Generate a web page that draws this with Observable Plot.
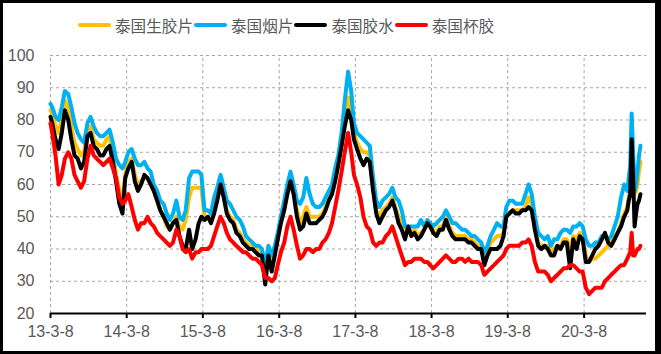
<!DOCTYPE html>
<html><head><meta charset="utf-8">
<script src="https://cdn.jsdelivr.net/npm/d3@7"></script>
<script src="https://cdn.jsdelivr.net/npm/@observablehq/plot@0.6"></script>
<style>
html,body{margin:0;padding:0;background:#fff;}
#wrap{position:relative;width:661px;height:354px;overflow:hidden;background:#fff;}
#frame{position:absolute;left:0;top:0;width:661px;height:354px;box-sizing:border-box;border-style:solid;border-color:#000;border-width:3px 6px 3px 3px;pointer-events:none;z-index:5;}
#legend{height:40px;box-sizing:border-box;padding:10px 0 0 78px;display:flex;align-items:center;font-family:"Noto Sans CJK SC",sans-serif;font-size:15.6px;color:#595959;line-height:30px;}
#legend .sw{display:inline-block;width:33px;height:4px;border-radius:2px;margin-right:4px;}
#legend .lb{margin-right:1px;white-space:nowrap;}
svg{display:block;}
</style></head>
<body><div id="wrap"><div id="legend"></div><div id="chart"></div><div id="frame"></div></div>
<script>
const seriesNames = ["泰国生胶片","泰国烟片","泰国胶水","泰国杯胶"];
const seriesColors = ["#FFC000","#00B0F0","#000000","#FF0000"];
const yTicks = [20,30,40,50,60,70,80,90,100];
const xTickDates = ["2013-03-08","2014-03-08","2015-03-08","2016-03-08","2017-03-08","2018-03-08","2019-03-08","2020-03-08"];
const xTickLabels = ["13-3-8","14-3-8","15-3-8","16-3-8","17-3-8","18-3-8","19-3-8","20-3-8"];

const dates = [
"2013-03-08","2013-03-16","2013-04-01","2013-04-16","2013-05-01","2013-05-16","2013-06-01","2013-06-16","2013-07-01","2013-07-16","2013-08-01","2013-08-16","2013-09-01","2013-09-16","2013-10-01","2013-10-16","2013-11-01","2013-11-16","2013-12-01","2013-12-16",
"2014-01-01","2014-01-16","2014-02-01","2014-02-16","2014-03-01","2014-03-16","2014-04-01","2014-04-16","2014-05-01","2014-05-16","2014-06-01","2014-06-16","2014-07-01","2014-07-16","2014-08-01","2014-08-16","2014-09-01","2014-09-16","2014-10-01","2014-10-16","2014-11-01","2014-11-16","2014-12-01","2014-12-16",
"2015-01-01","2015-01-16","2015-02-01","2015-02-16","2015-03-01","2015-03-16","2015-04-01","2015-04-16","2015-05-01","2015-05-16","2015-06-01","2015-06-16","2015-07-01","2015-07-16","2015-08-01","2015-08-16","2015-09-01","2015-09-16","2015-10-01","2015-10-16","2015-11-01","2015-11-16","2015-12-01","2015-12-16",
"2016-01-01","2016-01-16","2016-02-01","2016-02-16","2016-03-01","2016-03-16","2016-04-01","2016-04-16","2016-05-01","2016-05-16","2016-06-01","2016-06-16","2016-07-01","2016-07-16","2016-08-01","2016-08-16","2016-09-01","2016-09-16","2016-10-01","2016-10-16","2016-11-01","2016-11-16","2016-12-01","2016-12-16",
"2017-01-01","2017-01-16","2017-02-01","2017-02-16","2017-03-01","2017-03-16","2017-04-01","2017-04-16","2017-05-01","2017-05-16","2017-06-01","2017-06-16","2017-07-01","2017-07-16","2017-08-01","2017-08-16","2017-09-01","2017-09-16","2017-10-01","2017-10-16","2017-11-01","2017-11-16","2017-12-01","2017-12-16",
"2018-01-01","2018-01-16","2018-02-01","2018-02-16","2018-03-01","2018-03-16","2018-04-01","2018-04-16","2018-05-01","2018-05-16","2018-06-01","2018-06-16","2018-07-01","2018-07-16","2018-08-01","2018-08-16","2018-09-01","2018-09-16","2018-10-01","2018-10-16","2018-11-01","2018-11-16","2018-12-01","2018-12-16",
"2019-01-01","2019-01-16","2019-02-01","2019-02-16","2019-03-01","2019-03-16","2019-04-01","2019-04-16","2019-05-01","2019-05-16","2019-06-01","2019-06-16","2019-07-01","2019-07-16","2019-08-01","2019-08-16","2019-09-01","2019-09-16","2019-10-01","2019-10-16","2019-11-01","2019-11-16","2019-12-01","2019-12-16",
"2020-01-01","2020-01-16","2020-02-01","2020-02-16","2020-03-01","2020-03-16","2020-04-01","2020-04-16","2020-05-01","2020-05-16","2020-06-01","2020-06-16","2020-07-01","2020-07-16","2020-08-01","2020-08-16","2020-09-01","2020-09-16",
"2020-10-01","2020-10-08","2020-10-15","2020-10-22","2020-10-29","2020-11-05","2020-11-12","2020-11-19","2020-11-26","2020-12-03"
];

// 泰国生胶片
const rawSheet = [
83,82,78,76,80,86,84,78,73,71,69,70,77,78,74,73,72,72,74,75,
70,63,58,55,63,67,68,63,60,61,62,62,60,58,55,52,50,47,46,48,50,47,46,49,
56,59,59,59,59,50,50,49,53,56,61,57,52,50,49,46,45,43,42,41,41,40,39,39,
33,39,36,39,44,49,53,58,62,58,52,48,50,53,50,50,50,50,51,53,56,58,63,67,
73,82,87,83,76,73,71,70,70,69,59,52,50,52,53,54,56,53,50,48,45,46,45,46,
44,45,46,48,47,46,45,47,47,50,47,45,44,44,44,44,43,43,42,41,40,37,39,42,
43,44,44,45,50,51,52,52,52,52,53,56,54,47,42,41,41,41,39,40,41,41,43,43,
40,44,43,45,44,38,36,37,37,38,39,40,41,42,44,45,48,51,
53,56,58,62,60,57,58,60,64,67
];
// 泰国烟片
const smokedSheet = [
85,84,81,80,84,89,88,84,79,76,74,73,79,81,78,76,75,75,76,77,
73,68,66,65,67,70,71,68,66,66,67,65,64,60,58,55,54,51,49,51,55,50,49,52,
62,64,64,64,63,52,52,51,56,59,63,59,55,54,52,50,49,47,44,43,42,41,41,40,
35,41,38,41,45,50,55,60,64,60,55,54,56,62,57,54,53,53,54,56,58,60,65,69,
76,86,95,89,79,76,75,74,73,72,62,55,53,55,56,57,59,56,55,52,47,47,47,47,
47,49,47,49,48,47,48,49,50,52,50,48,48,47,46,46,45,44,44,43,42,39,41,44,
46,48,47,47,53,55,55,54,54,54,57,60,57,50,45,44,43,44,41,43,43,45,46,46,
45,47,47,48,47,43,41,41,42,42,44,44,43,44,47,50,56,60,
58,62,66,82,70,58,60,64,69,72
];
// 泰国胶水
const latex = [
81,79,74,71,76,83,80,74,69,68,65,67,75,76,72,71,69,69,71,72,
67,61,54,51,62,65,67,61,58,60,63,62,60,58,55,52,50,48,46,48,49,44,41,40,
46,40,43,48,50,49,50,48,51,55,60,56,51,49,48,45,44,42,41,40,40,39,38,38,
29,38,33,38,43,48,52,57,61,57,50,46,47,51,48,48,48,49,50,52,55,57,61,66,
72,78,83,80,74,71,68,66,68,67,58,51,48,50,52,53,55,52,48,46,43,47,44,45,
43,44,46,48,47,45,44,46,46,49,46,44,43,43,43,43,42,42,41,40,40,35,38,40,
40,40,41,44,50,51,52,51,51,52,52,53,52,46,41,40,41,40,38,38,41,40,42,42,
34,43,40,44,43,36,36,38,40,41,43,45,42,41,43,45,47,50,
52,55,57,74,62,47,51,54,55,57
];
// 泰国杯胶
const cupLump = [
79,76,69,60,63,68,70,68,63,61,59,61,68,72,69,68,67,66,67,68,
65,62,56,54,55,57,53,49,46,48,48,50,48,47,45,44,43,42,41,42,46,44,40,39,
40,37,39,39,40,40,40,41,44,47,50,48,45,43,42,41,40,39,39,38,37,37,36,35,
31,31,30,31,35,39,42,47,50,46,41,37,38,40,40,39,40,40,42,43,45,48,53,58,
64,70,76,70,63,60,56,50,47,46,42,41,42,42,44,45,47,44,41,38,35,36,36,37,
37,37,36,36,35,34,35,36,37,38,37,36,36,37,37,36,37,36,36,36,35,32,33,34,
35,36,37,38,40,41,41,41,41,42,42,43,41,36,33,33,33,32,30,31,32,33,34,34,
35,35,34,33,33,28,26,27,28,28,28,30,31,32,33,34,35,35,
37,38,39,45,38,38,39,40,40,41
];

const parse = d3.utcParse("%Y-%m-%d");
const allSeries = [rawSheet, smokedSheet, latex, cupLump];
const rows = [];
allSeries.forEach((arr, i) => arr.forEach((v, j) => rows.push({date: parse(dates[j]), value: v, series: seriesNames[i]})));
const tickDates = xTickDates.map(parse);

// legend
const legend = document.getElementById("legend");
seriesNames.forEach((name, i) => {
  const sw = document.createElement("span"); sw.className = "sw"; sw.style.background = seriesColors[i];
  const lb = document.createElement("span"); lb.className = "lb"; lb.textContent = name;
  legend.appendChild(sw); legend.appendChild(lb);
});

const chart = Plot.plot({
  width: 661, height: 314,
  marginLeft: 50, marginRight: 15, marginTop: 15, marginBottom: 41,
  x: {type: "utc", domain: [parse("2013-03-08"), parse("2021-01-01")], label: null},
  y: {domain: [20, 100], label: null},
  color: {domain: seriesNames, range: seriesColors},
  style: {fontFamily: "'Liberation Sans', Arial, sans-serif", fontSize: "16px", color: "#595959", background: "#fff", overflow: "visible"},
  marks: [
    Plot.ruleY(yTicks.filter(t => t > 20), {stroke: "#a6a6a6", strokeDasharray: "3,3", strokeWidth: 1}),
    Plot.ruleX(tickDates, {y1: 20, y2: 100, stroke: "#a6a6a6", strokeDasharray: "3,3", strokeWidth: 1}),
    Plot.lineY(rows, {x: "date", y: "value", z: "series", stroke: "series", strokeWidth: 4, strokeLinejoin: "round", strokeLinecap: "round"}),
    Plot.ruleY([20], {stroke: "#000", strokeWidth: 2}),
    Plot.axisX({ticks: tickDates, tickFormat: d => xTickLabels[tickDates.findIndex(t => +t === +d)], tickSize: 5, tickPadding: 7, stroke: "#000", strokeWidth: 2, fill: "#595959", fontSize: 16, label: null, style: "letter-spacing:2px"}),
    Plot.axisY({ticks: yTicks, tickSize: 0, tickPadding: 16, fill: "#595959", fontSize: 16, label: null})
  ]
});
document.getElementById("chart").appendChild(chart);
</script></body></html>
